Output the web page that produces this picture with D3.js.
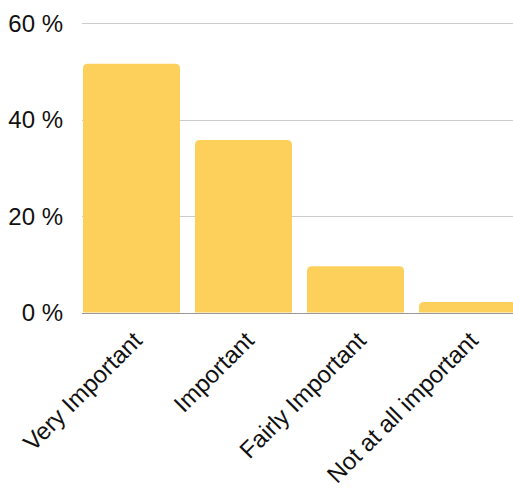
<!DOCTYPE html>
<html><head><meta charset="utf-8">
<script src="https://cdn.jsdelivr.net/npm/d3@7"></script>
<style>html,body{margin:0;padding:0;background:#fff;}svg{display:block;}</style>
</head><body>
<script>
const categories = ["Very Important", "Important", "Fairly Important", "Not at all important"];
const values = [51.6, 35.8, 9.6, 2.2];
const yTicks = [0, 20, 40, 60];

const W = 513, H = 493;
const svg = d3.select("body").append("svg").attr("width", W).attr("height", H)
  .style("font-family", "'Liberation Sans', Arial, sans-serif");

const x = d3.scaleBand().domain(categories).range([75.5, 523.5]).paddingInner(0.134).paddingOuter(0.067);
const y = d3.scaleLinear().domain([0, 60]).range([312.5, 23.3]);

// gridlines
svg.append("g").selectAll("line").data(yTicks.filter(d => d > 0)).join("line")
  .attr("x1", 82).attr("x2", W).attr("y1", d => Math.round(y(d)) + 0.5).attr("y2", d => Math.round(y(d)) + 0.5)
  .attr("stroke", "#ccc").attr("stroke-width", 1);

// y labels
svg.append("g").selectAll("text").data(yTicks).join("text")
  .attr("x", 63).attr("y", d => y(d)).attr("dy", "0.36em")
  .attr("text-anchor", "end").attr("font-size", 24).attr("fill", "#111")
  .text(d => d + " %");

// bars with rounded top corners
const r = 5;
function barPath(d, i) {
  const x0 = x(categories[i]), w = x.bandwidth();
  const y0 = y(0), y1 = y(d);
  const rr = Math.min(r, (y0 - y1));
  return `M${x0},${y0} L${x0},${y1 + rr} Q${x0},${y1} ${x0 + rr},${y1} L${x0 + w - rr},${y1} Q${x0 + w},${y1} ${x0 + w},${y1 + rr} L${x0 + w},${y0} Z`;
}
svg.append("g").selectAll("path").data(values).join("path")
  .attr("d", (d, i) => barPath(d, i)).attr("fill", "#FCD05A");

// baseline
svg.append("line").attr("x1", 82).attr("x2", W).attr("y1", Math.round(y(0)) + 0.5).attr("y2", Math.round(y(0)) + 0.5)
  .attr("stroke", "#999").attr("stroke-width", 1);

// x labels
svg.append("g").selectAll("text").data(categories).join("text")
  .attr("transform", d => `translate(${x(d) + x.bandwidth() / 2 + 12},${342}) rotate(-45)`)
  .attr("text-anchor", "end").attr("font-size", 24).attr("fill", "#111")
  .text(d => d);
</script>
</body></html>
